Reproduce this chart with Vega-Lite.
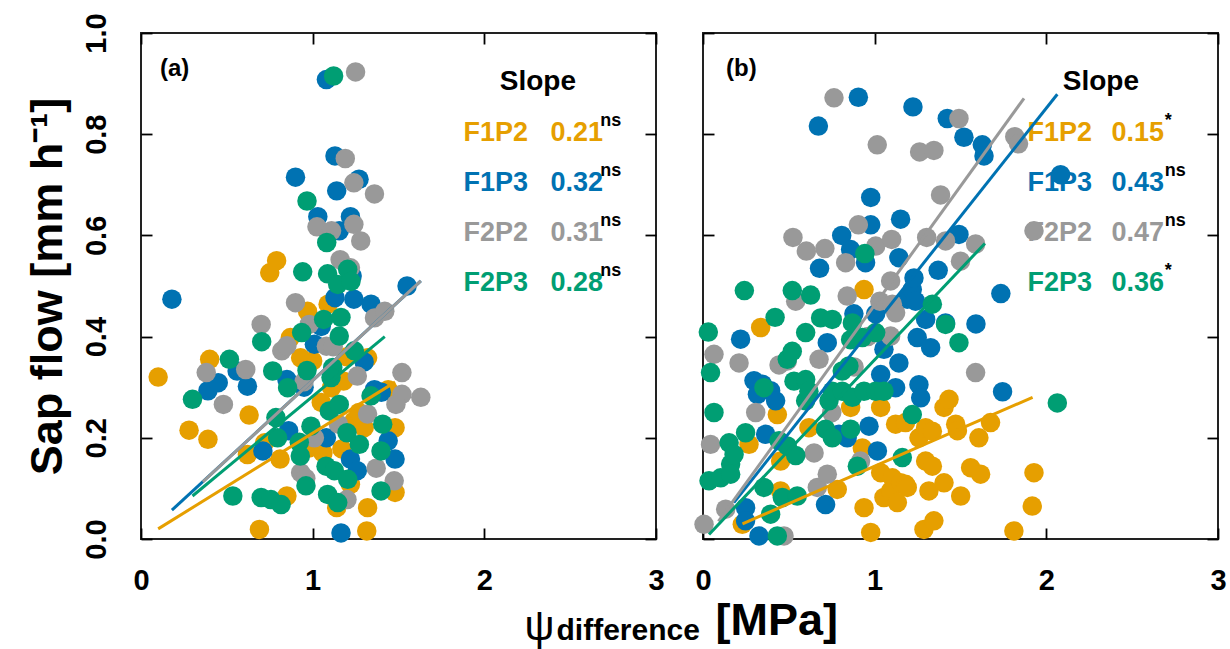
{
  "$schema": "https://vega.github.io/schema/vega-lite/v6.json",
  "padding": {"left": 23, "top": 11, "right": 5, "bottom": 5},
  "background": "white",
  "config": {
    "font": "Liberation Sans",
    "view": {"stroke": "#222222", "strokeWidth": 2},
    "axis": {"grid": false, "domain": false, "tickColor": "black", "tickWidth": 1.8, "labelColor": "black", "titleColor": "black", "labelFlush": false, "labelOverlap": false}
  },
  "datasets": {
    "tags": [
      {"panel": "a", "tag": "(a)", "head": "Slope"},
      {"panel": "b", "tag": "(b)", "head": "Slope"}
    ],
    "labels": [
      {"panel": "a", "group": "F1P2", "slope": "0.21", "sig": "ns", "ly": 0.787},
      {"panel": "a", "group": "F1P3", "slope": "0.32", "sig": "ns", "ly": 0.688},
      {"panel": "a", "group": "F2P2", "slope": "0.31", "sig": "ns", "ly": 0.589},
      {"panel": "a", "group": "F2P3", "slope": "0.28", "sig": "ns", "ly": 0.490},
      {"panel": "b", "group": "F1P2", "slope": "0.15", "sig": "*", "ly": 0.787},
      {"panel": "b", "group": "F1P3", "slope": "0.43", "sig": "ns", "ly": 0.688},
      {"panel": "b", "group": "F2P2", "slope": "0.47", "sig": "ns", "ly": 0.589},
      {"panel": "b", "group": "F2P3", "slope": "0.36", "sig": "*", "ly": 0.490}
    ],
    "fits": [
      {"panel": "a", "group": "F1P2", "x": 0.10, "y": 0.02},
      {"panel": "a", "group": "F1P2", "x": 1.48, "y": 0.31},
      {"panel": "a", "group": "F1P3", "x": 0.18, "y": 0.057},
      {"panel": "a", "group": "F1P3", "x": 1.63, "y": 0.51},
      {"panel": "a", "group": "F2P2", "x": 0.36, "y": 0.113},
      {"panel": "a", "group": "F2P2", "x": 1.63, "y": 0.51},
      {"panel": "a", "group": "F2P3", "x": 0.30, "y": 0.085},
      {"panel": "a", "group": "F2P3", "x": 1.42, "y": 0.40},
      {"panel": "b", "group": "F1P2", "x": 0.23, "y": 0.03},
      {"panel": "b", "group": "F1P2", "x": 1.92, "y": 0.28},
      {"panel": "b", "group": "F1P3", "x": 0.18, "y": 0.072},
      {"panel": "b", "group": "F1P3", "x": 2.064, "y": 0.879},
      {"panel": "b", "group": "F2P2", "x": 0.09, "y": 0.035},
      {"panel": "b", "group": "F2P2", "x": 1.87, "y": 0.871},
      {"panel": "b", "group": "F2P3", "x": 0.035, "y": 0.009},
      {"panel": "b", "group": "F2P3", "x": 1.642, "y": 0.584}
    ],
    "pts": [
      {"panel": "a", "group": "F1P2", "x": 0.10, "y": 0.32},
      {"panel": "a", "group": "F1P2", "x": 0.28, "y": 0.215},
      {"panel": "a", "group": "F1P2", "x": 0.39, "y": 0.197},
      {"panel": "a", "group": "F1P2", "x": 0.40, "y": 0.355},
      {"panel": "a", "group": "F1P2", "x": 0.62, "y": 0.167},
      {"panel": "a", "group": "F1P2", "x": 0.63, "y": 0.245},
      {"panel": "a", "group": "F1P2", "x": 0.69, "y": 0.019},
      {"panel": "a", "group": "F1P2", "x": 0.75, "y": 0.526},
      {"panel": "a", "group": "F1P2", "x": 0.79, "y": 0.55},
      {"panel": "a", "group": "F1P2", "x": 0.81, "y": 0.158},
      {"panel": "a", "group": "F1P2", "x": 0.85, "y": 0.085},
      {"panel": "a", "group": "F1P2", "x": 0.87, "y": 0.398},
      {"panel": "a", "group": "F1P2", "x": 0.93, "y": 0.358},
      {"panel": "a", "group": "F1P2", "x": 0.97, "y": 0.45},
      {"panel": "a", "group": "F1P2", "x": 0.98, "y": 0.18},
      {"panel": "a", "group": "F1P2", "x": 1.0, "y": 0.352},
      {"panel": "a", "group": "F1P2", "x": 1.09, "y": 0.464},
      {"panel": "a", "group": "F1P2", "x": 1.11, "y": 0.299},
      {"panel": "a", "group": "F1P2", "x": 1.17, "y": 0.178},
      {"panel": "a", "group": "F1P2", "x": 1.18, "y": 0.312},
      {"panel": "a", "group": "F1P2", "x": 1.14, "y": 0.062},
      {"panel": "a", "group": "F1P2", "x": 1.24, "y": 0.233},
      {"panel": "a", "group": "F1P2", "x": 1.22, "y": 0.108},
      {"panel": "a", "group": "F1P2", "x": 1.32, "y": 0.358},
      {"panel": "a", "group": "F1P2", "x": 1.30, "y": 0.22},
      {"panel": "a", "group": "F1P2", "x": 1.32, "y": 0.062},
      {"panel": "a", "group": "F1P2", "x": 1.315, "y": 0.016},
      {"panel": "a", "group": "F1P2", "x": 1.44, "y": 0.295},
      {"panel": "a", "group": "F1P2", "x": 1.48, "y": 0.22},
      {"panel": "a", "group": "F1P2", "x": 1.48, "y": 0.092},
      {"panel": "a", "group": "F1P2", "x": 1.27, "y": 0.25},
      {"panel": "a", "group": "F1P2", "x": 1.05, "y": 0.27},
      {"panel": "a", "group": "F1P2", "x": 0.72, "y": 0.19},
      {"panel": "a", "group": "F1P2", "x": 1.2, "y": 0.36},
      {"panel": "a", "group": "F1P2", "x": 1.06, "y": 0.17},
      {"panel": "a", "group": "F1P3", "x": 0.18, "y": 0.474},
      {"panel": "a", "group": "F1P3", "x": 0.39, "y": 0.293},
      {"panel": "a", "group": "F1P3", "x": 0.45, "y": 0.309},
      {"panel": "a", "group": "F1P3", "x": 0.56, "y": 0.332},
      {"panel": "a", "group": "F1P3", "x": 0.62, "y": 0.302},
      {"panel": "a", "group": "F1P3", "x": 0.71, "y": 0.174},
      {"panel": "a", "group": "F1P3", "x": 0.85, "y": 0.315},
      {"panel": "a", "group": "F1P3", "x": 0.86, "y": 0.214},
      {"panel": "a", "group": "F1P3", "x": 0.90, "y": 0.715},
      {"panel": "a", "group": "F1P3", "x": 1.01, "y": 0.385},
      {"panel": "a", "group": "F1P3", "x": 1.03, "y": 0.637},
      {"panel": "a", "group": "F1P3", "x": 1.08, "y": 0.908},
      {"panel": "a", "group": "F1P3", "x": 1.08, "y": 0.2},
      {"panel": "a", "group": "F1P3", "x": 1.13, "y": 0.757},
      {"panel": "a", "group": "F1P3", "x": 1.14, "y": 0.688},
      {"panel": "a", "group": "F1P3", "x": 1.155, "y": 0.609},
      {"panel": "a", "group": "F1P3", "x": 1.13, "y": 0.477},
      {"panel": "a", "group": "F1P3", "x": 1.22, "y": 0.637},
      {"panel": "a", "group": "F1P3", "x": 1.27, "y": 0.711},
      {"panel": "a", "group": "F1P3", "x": 1.23, "y": 0.52},
      {"panel": "a", "group": "F1P3", "x": 1.24, "y": 0.474},
      {"panel": "a", "group": "F1P3", "x": 1.34, "y": 0.464},
      {"panel": "a", "group": "F1P3", "x": 1.55, "y": 0.5},
      {"panel": "a", "group": "F1P3", "x": 1.36, "y": 0.295},
      {"panel": "a", "group": "F1P3", "x": 1.40, "y": 0.29},
      {"panel": "a", "group": "F1P3", "x": 1.22, "y": 0.158},
      {"panel": "a", "group": "F1P3", "x": 1.26, "y": 0.135},
      {"panel": "a", "group": "F1P3", "x": 1.48, "y": 0.158},
      {"panel": "a", "group": "F1P3", "x": 1.44, "y": 0.194},
      {"panel": "a", "group": "F1P3", "x": 1.165, "y": 0.012},
      {"panel": "a", "group": "F1P3", "x": 1.3, "y": 0.35},
      {"panel": "a", "group": "F1P3", "x": 0.95, "y": 0.30},
      {"panel": "a", "group": "F1P3", "x": 1.05, "y": 0.42},
      {"panel": "a", "group": "F2P2", "x": 0.38, "y": 0.329},
      {"panel": "a", "group": "F2P2", "x": 0.48, "y": 0.266},
      {"panel": "a", "group": "F2P2", "x": 0.61, "y": 0.335},
      {"panel": "a", "group": "F2P2", "x": 0.70, "y": 0.424},
      {"panel": "a", "group": "F2P2", "x": 0.82, "y": 0.372},
      {"panel": "a", "group": "F2P2", "x": 0.85, "y": 0.382},
      {"panel": "a", "group": "F2P2", "x": 0.90, "y": 0.467},
      {"panel": "a", "group": "F2P2", "x": 0.95, "y": 0.311},
      {"panel": "a", "group": "F2P2", "x": 0.98, "y": 0.424},
      {"panel": "a", "group": "F2P2", "x": 0.93, "y": 0.131},
      {"panel": "a", "group": "F2P2", "x": 0.96, "y": 0.12},
      {"panel": "a", "group": "F2P2", "x": 1.01, "y": 0.2},
      {"panel": "a", "group": "F2P2", "x": 1.025, "y": 0.617},
      {"panel": "a", "group": "F2P2", "x": 1.08, "y": 0.381},
      {"panel": "a", "group": "F2P2", "x": 1.11, "y": 0.609},
      {"panel": "a", "group": "F2P2", "x": 1.15, "y": 0.227},
      {"panel": "a", "group": "F2P2", "x": 1.16, "y": 0.552},
      {"panel": "a", "group": "F2P2", "x": 1.19, "y": 0.752},
      {"panel": "a", "group": "F2P2", "x": 1.22, "y": 0.536},
      {"panel": "a", "group": "F2P2", "x": 1.24, "y": 0.704},
      {"panel": "a", "group": "F2P2", "x": 1.24, "y": 0.622},
      {"panel": "a", "group": "F2P2", "x": 1.25, "y": 0.923},
      {"panel": "a", "group": "F2P2", "x": 1.28, "y": 0.589},
      {"panel": "a", "group": "F2P2", "x": 1.36, "y": 0.682},
      {"panel": "a", "group": "F2P2", "x": 1.26, "y": 0.322},
      {"panel": "a", "group": "F2P2", "x": 1.32, "y": 0.247},
      {"panel": "a", "group": "F2P2", "x": 1.36, "y": 0.437},
      {"panel": "a", "group": "F2P2", "x": 1.42, "y": 0.45},
      {"panel": "a", "group": "F2P2", "x": 1.52, "y": 0.329},
      {"panel": "a", "group": "F2P2", "x": 1.52, "y": 0.286},
      {"panel": "a", "group": "F2P2", "x": 1.63, "y": 0.28},
      {"panel": "a", "group": "F2P2", "x": 1.485, "y": 0.266},
      {"panel": "a", "group": "F2P2", "x": 1.37, "y": 0.14},
      {"panel": "a", "group": "F2P2", "x": 1.475, "y": 0.115},
      {"panel": "a", "group": "F2P2", "x": 1.2, "y": 0.078},
      {"panel": "a", "group": "F2P2", "x": 1.12, "y": 0.38},
      {"panel": "a", "group": "F2P3", "x": 0.30, "y": 0.276},
      {"panel": "a", "group": "F2P3", "x": 0.515, "y": 0.355},
      {"panel": "a", "group": "F2P3", "x": 0.535, "y": 0.085},
      {"panel": "a", "group": "F2P3", "x": 0.70, "y": 0.082},
      {"panel": "a", "group": "F2P3", "x": 0.757, "y": 0.078},
      {"panel": "a", "group": "F2P3", "x": 0.816, "y": 0.068},
      {"panel": "a", "group": "F2P3", "x": 0.703, "y": 0.39},
      {"panel": "a", "group": "F2P3", "x": 0.767, "y": 0.332},
      {"panel": "a", "group": "F2P3", "x": 0.786, "y": 0.24},
      {"panel": "a", "group": "F2P3", "x": 0.796, "y": 0.2},
      {"panel": "a", "group": "F2P3", "x": 0.854, "y": 0.299},
      {"panel": "a", "group": "F2P3", "x": 0.936, "y": 0.408},
      {"panel": "a", "group": "F2P3", "x": 0.942, "y": 0.528},
      {"panel": "a", "group": "F2P3", "x": 0.967, "y": 0.668},
      {"panel": "a", "group": "F2P3", "x": 0.967, "y": 0.333},
      {"panel": "a", "group": "F2P3", "x": 0.99, "y": 0.223},
      {"panel": "a", "group": "F2P3", "x": 0.922, "y": 0.191},
      {"panel": "a", "group": "F2P3", "x": 0.928, "y": 0.164},
      {"panel": "a", "group": "F2P3", "x": 0.961, "y": 0.105},
      {"panel": "a", "group": "F2P3", "x": 1.064, "y": 0.434},
      {"panel": "a", "group": "F2P3", "x": 1.082, "y": 0.586},
      {"panel": "a", "group": "F2P3", "x": 1.087, "y": 0.524},
      {"panel": "a", "group": "F2P3", "x": 1.122, "y": 0.915},
      {"panel": "a", "group": "F2P3", "x": 1.165, "y": 0.438},
      {"panel": "a", "group": "F2P3", "x": 1.155, "y": 0.401},
      {"panel": "a", "group": "F2P3", "x": 1.146, "y": 0.503},
      {"panel": "a", "group": "F2P3", "x": 1.204, "y": 0.533},
      {"panel": "a", "group": "F2P3", "x": 1.223, "y": 0.509},
      {"panel": "a", "group": "F2P3", "x": 1.243, "y": 0.372},
      {"panel": "a", "group": "F2P3", "x": 1.117, "y": 0.339},
      {"panel": "a", "group": "F2P3", "x": 1.107, "y": 0.319},
      {"panel": "a", "group": "F2P3", "x": 1.097, "y": 0.253},
      {"panel": "a", "group": "F2P3", "x": 1.155, "y": 0.266},
      {"panel": "a", "group": "F2P3", "x": 1.34, "y": 0.283},
      {"panel": "a", "group": "F2P3", "x": 1.2, "y": 0.21},
      {"panel": "a", "group": "F2P3", "x": 1.272, "y": 0.187},
      {"panel": "a", "group": "F2P3", "x": 1.408, "y": 0.227},
      {"panel": "a", "group": "F2P3", "x": 1.398, "y": 0.174},
      {"panel": "a", "group": "F2P3", "x": 1.398, "y": 0.095},
      {"panel": "a", "group": "F2P3", "x": 1.078, "y": 0.144},
      {"panel": "a", "group": "F2P3", "x": 1.126, "y": 0.135},
      {"panel": "a", "group": "F2P3", "x": 1.204, "y": 0.118},
      {"panel": "a", "group": "F2P3", "x": 1.087, "y": 0.088},
      {"panel": "a", "group": "F2P3", "x": 1.146, "y": 0.072},
      {"panel": "b", "group": "F1P2", "x": 0.229, "y": 0.029},
      {"panel": "b", "group": "F1P2", "x": 0.268, "y": 0.187},
      {"panel": "b", "group": "F1P2", "x": 0.336, "y": 0.418},
      {"panel": "b", "group": "F1P2", "x": 0.433, "y": 0.246},
      {"panel": "b", "group": "F1P2", "x": 0.452, "y": 0.154},
      {"panel": "b", "group": "F1P2", "x": 0.452, "y": 0.095},
      {"panel": "b", "group": "F1P2", "x": 0.617, "y": 0.22},
      {"panel": "b", "group": "F1P2", "x": 0.782, "y": 0.098},
      {"panel": "b", "group": "F1P2", "x": 0.86, "y": 0.26},
      {"panel": "b", "group": "F1P2", "x": 0.928, "y": 0.18},
      {"panel": "b", "group": "F1P2", "x": 0.938, "y": 0.062},
      {"panel": "b", "group": "F1P2", "x": 0.938, "y": 0.493},
      {"panel": "b", "group": "F1P2", "x": 0.977, "y": 0.013},
      {"panel": "b", "group": "F1P2", "x": 1.035, "y": 0.26},
      {"panel": "b", "group": "F1P2", "x": 1.035, "y": 0.131},
      {"panel": "b", "group": "F1P2", "x": 1.054, "y": 0.082},
      {"panel": "b", "group": "F1P2", "x": 1.093, "y": 0.095},
      {"panel": "b", "group": "F1P2", "x": 1.103, "y": 0.121},
      {"panel": "b", "group": "F1P2", "x": 1.122, "y": 0.227},
      {"panel": "b", "group": "F1P2", "x": 1.132, "y": 0.072},
      {"panel": "b", "group": "F1P2", "x": 1.151, "y": 0.111},
      {"panel": "b", "group": "F1P2", "x": 1.18, "y": 0.23},
      {"panel": "b", "group": "F1P2", "x": 1.18, "y": 0.108},
      {"panel": "b", "group": "F1P2", "x": 1.19, "y": 0.102},
      {"panel": "b", "group": "F1P2", "x": 1.258, "y": 0.2},
      {"panel": "b", "group": "F1P2", "x": 1.287, "y": 0.019},
      {"panel": "b", "group": "F1P2", "x": 1.297, "y": 0.22},
      {"panel": "b", "group": "F1P2", "x": 1.297, "y": 0.154},
      {"panel": "b", "group": "F1P2", "x": 1.316, "y": 0.095},
      {"panel": "b", "group": "F1P2", "x": 1.336, "y": 0.213},
      {"panel": "b", "group": "F1P2", "x": 1.336, "y": 0.144},
      {"panel": "b", "group": "F1P2", "x": 1.345, "y": 0.036},
      {"panel": "b", "group": "F1P2", "x": 1.404, "y": 0.26},
      {"panel": "b", "group": "F1P2", "x": 1.404, "y": 0.111},
      {"panel": "b", "group": "F1P2", "x": 1.433, "y": 0.276},
      {"panel": "b", "group": "F1P2", "x": 1.472, "y": 0.227},
      {"panel": "b", "group": "F1P2", "x": 1.482, "y": 0.214},
      {"panel": "b", "group": "F1P2", "x": 1.501, "y": 0.085},
      {"panel": "b", "group": "F1P2", "x": 1.559, "y": 0.141},
      {"panel": "b", "group": "F1P2", "x": 1.607, "y": 0.2},
      {"panel": "b", "group": "F1P2", "x": 1.617, "y": 0.128},
      {"panel": "b", "group": "F1P2", "x": 1.675, "y": 0.23},
      {"panel": "b", "group": "F1P2", "x": 1.811, "y": 0.016},
      {"panel": "b", "group": "F1P2", "x": 1.918, "y": 0.065},
      {"panel": "b", "group": "F1P2", "x": 1.928, "y": 0.131},
      {"panel": "b", "group": "F1P3", "x": 0.219, "y": 0.395},
      {"panel": "b", "group": "F1P3", "x": 0.248, "y": 0.062},
      {"panel": "b", "group": "F1P3", "x": 0.248, "y": 0.036},
      {"panel": "b", "group": "F1P3", "x": 0.297, "y": 0.313},
      {"panel": "b", "group": "F1P3", "x": 0.317, "y": 0.286},
      {"panel": "b", "group": "F1P3", "x": 0.326, "y": 0.006},
      {"panel": "b", "group": "F1P3", "x": 0.346, "y": 0.306},
      {"panel": "b", "group": "F1P3", "x": 0.365, "y": 0.207},
      {"panel": "b", "group": "F1P3", "x": 0.394, "y": 0.293},
      {"panel": "b", "group": "F1P3", "x": 0.423, "y": 0.273},
      {"panel": "b", "group": "F1P3", "x": 0.672, "y": 0.816},
      {"panel": "b", "group": "F1P3", "x": 0.679, "y": 0.535},
      {"panel": "b", "group": "F1P3", "x": 0.714, "y": 0.068},
      {"panel": "b", "group": "F1P3", "x": 0.724, "y": 0.388},
      {"panel": "b", "group": "F1P3", "x": 0.792, "y": 0.207},
      {"panel": "b", "group": "F1P3", "x": 0.808, "y": 0.6},
      {"panel": "b", "group": "F1P3", "x": 0.84, "y": 0.2},
      {"panel": "b", "group": "F1P3", "x": 0.86, "y": 0.572},
      {"panel": "b", "group": "F1P3", "x": 0.879, "y": 0.445},
      {"panel": "b", "group": "F1P3", "x": 0.905, "y": 0.873},
      {"panel": "b", "group": "F1P3", "x": 0.947, "y": 0.546},
      {"panel": "b", "group": "F1P3", "x": 0.967, "y": 0.223},
      {"panel": "b", "group": "F1P3", "x": 0.977, "y": 0.675},
      {"panel": "b", "group": "F1P3", "x": 0.977, "y": 0.621},
      {"panel": "b", "group": "F1P3", "x": 1.006, "y": 0.445},
      {"panel": "b", "group": "F1P3", "x": 1.016, "y": 0.174},
      {"panel": "b", "group": "F1P3", "x": 1.035, "y": 0.325},
      {"panel": "b", "group": "F1P3", "x": 1.054, "y": 0.375},
      {"panel": "b", "group": "F1P3", "x": 1.122, "y": 0.299},
      {"panel": "b", "group": "F1P3", "x": 1.141, "y": 0.556},
      {"panel": "b", "group": "F1P3", "x": 1.141, "y": 0.348},
      {"panel": "b", "group": "F1P3", "x": 1.151, "y": 0.632},
      {"panel": "b", "group": "F1P3", "x": 1.19, "y": 0.474},
      {"panel": "b", "group": "F1P3", "x": 1.219, "y": 0.493},
      {"panel": "b", "group": "F1P3", "x": 1.223, "y": 0.854},
      {"panel": "b", "group": "F1P3", "x": 1.229, "y": 0.516},
      {"panel": "b", "group": "F1P3", "x": 1.238, "y": 0.47},
      {"panel": "b", "group": "F1P3", "x": 1.248, "y": 0.398},
      {"panel": "b", "group": "F1P3", "x": 1.258, "y": 0.305},
      {"panel": "b", "group": "F1P3", "x": 1.268, "y": 0.279},
      {"panel": "b", "group": "F1P3", "x": 1.297, "y": 0.434},
      {"panel": "b", "group": "F1P3", "x": 1.326, "y": 0.378},
      {"panel": "b", "group": "F1P3", "x": 1.37, "y": 0.531},
      {"panel": "b", "group": "F1P3", "x": 1.413, "y": 0.427},
      {"panel": "b", "group": "F1P3", "x": 1.423, "y": 0.831},
      {"panel": "b", "group": "F1P3", "x": 1.491, "y": 0.602},
      {"panel": "b", "group": "F1P3", "x": 1.52, "y": 0.794},
      {"panel": "b", "group": "F1P3", "x": 1.59, "y": 0.425},
      {"panel": "b", "group": "F1P3", "x": 1.627, "y": 0.779},
      {"panel": "b", "group": "F1P3", "x": 1.637, "y": 0.757},
      {"panel": "b", "group": "F1P3", "x": 1.735, "y": 0.485},
      {"panel": "b", "group": "F1P3", "x": 1.745, "y": 0.291},
      {"panel": "b", "group": "F1P3", "x": 2.083, "y": 0.72},
      {"panel": "b", "group": "F2P2", "x": 0.006, "y": 0.029},
      {"panel": "b", "group": "F2P2", "x": 0.044, "y": 0.187},
      {"panel": "b", "group": "F2P2", "x": 0.064, "y": 0.365},
      {"panel": "b", "group": "F2P2", "x": 0.132, "y": 0.059},
      {"panel": "b", "group": "F2P2", "x": 0.21, "y": 0.348},
      {"panel": "b", "group": "F2P2", "x": 0.307, "y": 0.25},
      {"panel": "b", "group": "F2P2", "x": 0.443, "y": 0.344},
      {"panel": "b", "group": "F2P2", "x": 0.472, "y": 0.006},
      {"panel": "b", "group": "F2P2", "x": 0.491, "y": 0.352},
      {"panel": "b", "group": "F2P2", "x": 0.524, "y": 0.596},
      {"panel": "b", "group": "F2P2", "x": 0.54, "y": 0.47},
      {"panel": "b", "group": "F2P2", "x": 0.602, "y": 0.569},
      {"panel": "b", "group": "F2P2", "x": 0.647, "y": 0.17},
      {"panel": "b", "group": "F2P2", "x": 0.666, "y": 0.102},
      {"panel": "b", "group": "F2P2", "x": 0.676, "y": 0.355},
      {"panel": "b", "group": "F2P2", "x": 0.71, "y": 0.574},
      {"panel": "b", "group": "F2P2", "x": 0.724, "y": 0.128},
      {"panel": "b", "group": "F2P2", "x": 0.75, "y": 0.25},
      {"panel": "b", "group": "F2P2", "x": 0.763, "y": 0.872},
      {"panel": "b", "group": "F2P2", "x": 0.831, "y": 0.546},
      {"panel": "b", "group": "F2P2", "x": 0.84, "y": 0.48},
      {"panel": "b", "group": "F2P2", "x": 0.88, "y": 0.34},
      {"panel": "b", "group": "F2P2", "x": 0.905, "y": 0.621},
      {"panel": "b", "group": "F2P2", "x": 0.918, "y": 0.154},
      {"panel": "b", "group": "F2P2", "x": 0.96, "y": 0.4},
      {"panel": "b", "group": "F2P2", "x": 1.006, "y": 0.579},
      {"panel": "b", "group": "F2P2", "x": 1.015, "y": 0.779},
      {"panel": "b", "group": "F2P2", "x": 1.03, "y": 0.47},
      {"panel": "b", "group": "F2P2", "x": 1.093, "y": 0.51},
      {"panel": "b", "group": "F2P2", "x": 1.093, "y": 0.401},
      {"panel": "b", "group": "F2P2", "x": 1.099, "y": 0.592},
      {"panel": "b", "group": "F2P2", "x": 1.103, "y": 0.464},
      {"panel": "b", "group": "F2P2", "x": 1.122, "y": 0.447},
      {"panel": "b", "group": "F2P2", "x": 1.262, "y": 0.765},
      {"panel": "b", "group": "F2P2", "x": 1.303, "y": 0.596},
      {"panel": "b", "group": "F2P2", "x": 1.345, "y": 0.768},
      {"panel": "b", "group": "F2P2", "x": 1.384, "y": 0.68},
      {"panel": "b", "group": "F2P2", "x": 1.413, "y": 0.589},
      {"panel": "b", "group": "F2P2", "x": 1.491, "y": 0.831},
      {"panel": "b", "group": "F2P2", "x": 1.5, "y": 0.549},
      {"panel": "b", "group": "F2P2", "x": 1.588, "y": 0.583},
      {"panel": "b", "group": "F2P2", "x": 1.588, "y": 0.329},
      {"panel": "b", "group": "F2P2", "x": 1.816, "y": 0.795},
      {"panel": "b", "group": "F2P2", "x": 1.838, "y": 0.781},
      {"panel": "b", "group": "F2P2", "x": 1.928, "y": 0.609},
      {"panel": "b", "group": "F2P3", "x": 0.031, "y": 0.409},
      {"panel": "b", "group": "F2P3", "x": 0.035, "y": 0.115},
      {"panel": "b", "group": "F2P3", "x": 0.044, "y": 0.329},
      {"panel": "b", "group": "F2P3", "x": 0.064, "y": 0.25},
      {"panel": "b", "group": "F2P3", "x": 0.103, "y": 0.121},
      {"panel": "b", "group": "F2P3", "x": 0.152, "y": 0.19},
      {"panel": "b", "group": "F2P3", "x": 0.161, "y": 0.148},
      {"panel": "b", "group": "F2P3", "x": 0.161, "y": 0.128},
      {"panel": "b", "group": "F2P3", "x": 0.181, "y": 0.167},
      {"panel": "b", "group": "F2P3", "x": 0.241, "y": 0.491},
      {"panel": "b", "group": "F2P3", "x": 0.248, "y": 0.21},
      {"panel": "b", "group": "F2P3", "x": 0.355, "y": 0.299},
      {"panel": "b", "group": "F2P3", "x": 0.355, "y": 0.102},
      {"panel": "b", "group": "F2P3", "x": 0.394, "y": 0.049},
      {"panel": "b", "group": "F2P3", "x": 0.42, "y": 0.438},
      {"panel": "b", "group": "F2P3", "x": 0.433, "y": 0.006},
      {"panel": "b", "group": "F2P3", "x": 0.443, "y": 0.194},
      {"panel": "b", "group": "F2P3", "x": 0.462, "y": 0.082},
      {"panel": "b", "group": "F2P3", "x": 0.491, "y": 0.355},
      {"panel": "b", "group": "F2P3", "x": 0.491, "y": 0.184},
      {"panel": "b", "group": "F2P3", "x": 0.52, "y": 0.371},
      {"panel": "b", "group": "F2P3", "x": 0.52, "y": 0.491},
      {"panel": "b", "group": "F2P3", "x": 0.53, "y": 0.312},
      {"panel": "b", "group": "F2P3", "x": 0.54, "y": 0.165},
      {"panel": "b", "group": "F2P3", "x": 0.549, "y": 0.085},
      {"panel": "b", "group": "F2P3", "x": 0.598, "y": 0.408},
      {"panel": "b", "group": "F2P3", "x": 0.598, "y": 0.315},
      {"panel": "b", "group": "F2P3", "x": 0.598, "y": 0.273},
      {"panel": "b", "group": "F2P3", "x": 0.617, "y": 0.292},
      {"panel": "b", "group": "F2P3", "x": 0.627, "y": 0.482},
      {"panel": "b", "group": "F2P3", "x": 0.685, "y": 0.437},
      {"panel": "b", "group": "F2P3", "x": 0.714, "y": 0.217},
      {"panel": "b", "group": "F2P3", "x": 0.734, "y": 0.273},
      {"panel": "b", "group": "F2P3", "x": 0.753, "y": 0.434},
      {"panel": "b", "group": "F2P3", "x": 0.753, "y": 0.292},
      {"panel": "b", "group": "F2P3", "x": 0.753, "y": 0.2},
      {"panel": "b", "group": "F2P3", "x": 0.811, "y": 0.332},
      {"panel": "b", "group": "F2P3", "x": 0.811, "y": 0.292},
      {"panel": "b", "group": "F2P3", "x": 0.85, "y": 0.342},
      {"panel": "b", "group": "F2P3", "x": 0.86, "y": 0.394},
      {"panel": "b", "group": "F2P3", "x": 0.86, "y": 0.217},
      {"panel": "b", "group": "F2P3", "x": 0.87, "y": 0.427},
      {"panel": "b", "group": "F2P3", "x": 0.87, "y": 0.28},
      {"panel": "b", "group": "F2P3", "x": 0.899, "y": 0.144},
      {"panel": "b", "group": "F2P3", "x": 0.928, "y": 0.398},
      {"panel": "b", "group": "F2P3", "x": 0.938, "y": 0.292},
      {"panel": "b", "group": "F2P3", "x": 0.943, "y": 0.564},
      {"panel": "b", "group": "F2P3", "x": 1.006, "y": 0.408},
      {"panel": "b", "group": "F2P3", "x": 1.006, "y": 0.292},
      {"panel": "b", "group": "F2P3", "x": 1.054, "y": 0.292},
      {"panel": "b", "group": "F2P3", "x": 1.161, "y": 0.161},
      {"panel": "b", "group": "F2P3", "x": 1.219, "y": 0.246},
      {"panel": "b", "group": "F2P3", "x": 1.336, "y": 0.464},
      {"panel": "b", "group": "F2P3", "x": 1.413, "y": 0.424},
      {"panel": "b", "group": "F2P3", "x": 1.491, "y": 0.388},
      {"panel": "b", "group": "F2P3", "x": 2.064, "y": 0.269}
    ]
  },
  "spacing": 47,
  "bounds": "flush",
  "hconcat": [
    {
      "width": 515,
      "height": 506,
      "resolve": {"axis": {"x": "independent", "y": "independent"}},
      "layer": [
        {
          "data": {"name": "tags"},
          "transform": [{"filter": "datum.panel === 'a'"}],
          "mark": {"type": "text", "align": "left", "baseline": "alphabetic", "fontSize": 24, "fontWeight": "bold", "color": "black"},
          "encoding": {
            "x": {"datum": 0.11, "type": "quantitative", "scale": {"domain": [0, 3], "nice": false, "zero": false},
              "axis": {"orient": "bottom", "labels": false, "ticks": false, "domain": false, "grid": false, "title": "ψ", "titleFontSize": 42, "titleFontWeight": "normal", "titleX": 398, "titleY": 100, "titleAlign": "center", "titleBaseline": "alphabetic"}},
            "y": {"datum": 0.915, "type": "quantitative", "scale": {"domain": [0, 1], "nice": false, "zero": false}, "axis": null},
            "text": {"field": "tag"}
          }
        },
        {
          "data": {"name": "tags"},
          "transform": [{"filter": "datum.panel === 'a'"}],
          "mark": {"type": "text", "align": "center", "baseline": "alphabetic", "fontSize": 28, "fontWeight": "bold", "color": "black"},
          "encoding": {
            "x": {"datum": 2.312, "type": "quantitative", "scale": {"domain": [0, 3], "nice": false, "zero": false}, "axis": null},
            "y": {"datum": 0.887, "type": "quantitative", "scale": {"domain": [0, 1], "nice": false, "zero": false}, "axis": null},
            "text": {"field": "head"}
          }
        },
        {
          "data": {"name": "labels"},
          "transform": [{"filter": "datum.panel === 'a'"}],
          "mark": {"type": "text", "align": "left", "baseline": "alphabetic", "fontSize": 27, "fontWeight": "bold"},
          "encoding": {
            "x": {"datum": 1.878, "type": "quantitative", "scale": {"domain": [0, 3], "nice": false, "zero": false}, "axis": null},
            "y": {"field": "ly", "type": "quantitative", "scale": {"domain": [0, 1], "nice": false, "zero": false}, "axis": null},
            "color": {"field": "group", "type": "nominal", "scale": {"domain": ["F1P2", "F1P3", "F2P2", "F2P3"], "range": ["#E69F00", "#0072B2", "#999999", "#009E73"]}, "legend": null},
            "text": {"field": "group"}
          }
        },
        {
          "data": {"name": "labels"},
          "transform": [{"filter": "datum.panel === 'a'"}],
          "mark": {"type": "text", "align": "left", "baseline": "alphabetic", "fontSize": 27, "fontWeight": "bold"},
          "encoding": {
            "x": {"datum": 2.385, "type": "quantitative", "scale": {"domain": [0, 3], "nice": false, "zero": false}, "axis": null},
            "y": {"field": "ly", "type": "quantitative", "scale": {"domain": [0, 1], "nice": false, "zero": false}, "axis": null},
            "color": {"field": "group", "type": "nominal", "scale": {"domain": ["F1P2", "F1P3", "F2P2", "F2P3"], "range": ["#E69F00", "#0072B2", "#999999", "#009E73"]}, "legend": null},
            "text": {"field": "slope"}
          }
        },
        {
          "data": {"name": "labels"},
          "transform": [{"filter": "datum.panel === 'a'"}],
          "mark": {"type": "text", "align": "left", "baseline": "alphabetic", "fontSize": 18, "fontWeight": "bold", "color": "black", "dy": -15},
          "encoding": {
            "x": {"datum": 2.675, "type": "quantitative", "scale": {"domain": [0, 3], "nice": false, "zero": false}, "axis": null},
            "y": {"field": "ly", "type": "quantitative", "scale": {"domain": [0, 1], "nice": false, "zero": false}, "axis": null},
            "text": {"field": "sig"}
          }
        },
        {
          "data": {"name": "pts"},
          "transform": [{"filter": "datum.panel === 'a'"}],
          "mark": {"type": "circle", "size": 380, "opacity": 1},
          "encoding": {
            "x": {"field": "x", "type": "quantitative", "scale": {"domain": [0, 3], "nice": false, "zero": false},
              "axis": {"orient": "bottom", "values": [0, 1, 2, 3], "format": "d", "labelFontSize": 29, "labelFontWeight": "bold", "labelBaseline": "alphabetic", "labelPadding": 61, "tickSize": -11, "domain": false, "grid": false, "title": null}},
            "y": {"field": "y", "type": "quantitative", "scale": {"domain": [0, 1], "nice": false, "zero": false},
              "axis": {"orient": "left", "values": [0, 0.2, 0.4, 0.6, 0.8, 1.0], "format": ".1f", "labelAngle": -90, "labelAlign": "center", "labelBaseline": "alphabetic", "labelFontSize": 29, "labelFontWeight": "bold", "labelPadding": 47, "tickSize": -11, "domain": false, "grid": false,
                "title": "Sap flow [mm h⁻¹]", "titleFontSize": 45, "titleFontWeight": "bold", "titleAngle": -90, "titleX": -80, "titleY": 253, "titleAlign": "center", "titleBaseline": "alphabetic"}},
            "color": {"field": "group", "type": "nominal", "scale": {"domain": ["F1P2", "F1P3", "F2P2", "F2P3"], "range": ["#E69F00", "#0072B2", "#999999", "#009E73"]}, "legend": null}
          }
        },
        {
          "data": {"name": "fits"},
          "transform": [{"filter": "datum.panel === 'a'"}],
          "mark": {"type": "line", "strokeWidth": 3},
          "encoding": {
            "x": {"field": "x", "type": "quantitative", "scale": {"domain": [0, 3], "nice": false, "zero": false},
              "axis": {"orient": "top", "values": [0, 1, 2, 3], "labels": false, "tickSize": -11, "domain": false, "grid": false, "title": null}},
            "y": {"field": "y", "type": "quantitative", "scale": {"domain": [0, 1], "nice": false, "zero": false},
              "axis": {"orient": "right", "values": [0, 0.2, 0.4, 0.6, 0.8, 1.0], "labels": false, "tickSize": -11, "domain": false, "grid": false, "title": null}},
            "color": {"field": "group", "type": "nominal", "scale": {"domain": ["F1P2", "F1P3", "F2P2", "F2P3"], "range": ["#E69F00", "#0072B2", "#999999", "#009E73"]}, "legend": null}
          }
        }
      ]
    },
    {
      "width": 515,
      "height": 506,
      "resolve": {"axis": {"x": "independent", "y": "independent"}},
      "layer": [
        {
          "data": {"name": "tags"},
          "transform": [{"filter": "datum.panel === 'b'"}],
          "mark": {"type": "text", "align": "left", "baseline": "alphabetic", "fontSize": 24, "fontWeight": "bold", "color": "black"},
          "encoding": {
            "x": {"datum": 0.134, "type": "quantitative", "scale": {"domain": [0, 3], "nice": false, "zero": false},
              "axis": {"orient": "bottom", "labels": false, "ticks": false, "domain": false, "grid": false, "title": "difference", "titleFontSize": 30, "titleFontWeight": "bold", "titleX": -147, "titleY": 100, "titleAlign": "left", "titleBaseline": "alphabetic"}},
            "y": {"datum": 0.915, "type": "quantitative", "scale": {"domain": [0, 1], "nice": false, "zero": false}, "axis": null},
            "text": {"field": "tag"}
          }
        },
        {
          "data": {"name": "tags"},
          "transform": [{"filter": "datum.panel === 'b'"}],
          "mark": {"type": "text", "align": "center", "baseline": "alphabetic", "fontSize": 28, "fontWeight": "bold", "color": "black"},
          "encoding": {
            "x": {"datum": 2.318, "type": "quantitative", "scale": {"domain": [0, 3], "nice": false, "zero": false},
              "axis": {"orient": "bottom", "labels": false, "ticks": false, "domain": false, "grid": false, "title": "[MPa]", "titleFontSize": 45, "titleFontWeight": "bold", "titleX": 12, "titleY": 95, "titleAlign": "left", "titleBaseline": "alphabetic"}},
            "y": {"datum": 0.887, "type": "quantitative", "scale": {"domain": [0, 1], "nice": false, "zero": false}, "axis": null},
            "text": {"field": "head"}
          }
        },
        {
          "data": {"name": "labels"},
          "transform": [{"filter": "datum.panel === 'b'"}],
          "mark": {"type": "text", "align": "left", "baseline": "alphabetic", "fontSize": 27, "fontWeight": "bold"},
          "encoding": {
            "x": {"datum": 1.89, "type": "quantitative", "scale": {"domain": [0, 3], "nice": false, "zero": false}, "axis": null},
            "y": {"field": "ly", "type": "quantitative", "scale": {"domain": [0, 1], "nice": false, "zero": false}, "axis": null},
            "color": {"field": "group", "type": "nominal", "scale": {"domain": ["F1P2", "F1P3", "F2P2", "F2P3"], "range": ["#E69F00", "#0072B2", "#999999", "#009E73"]}, "legend": null},
            "text": {"field": "group"}
          }
        },
        {
          "data": {"name": "labels"},
          "transform": [{"filter": "datum.panel === 'b'"}],
          "mark": {"type": "text", "align": "left", "baseline": "alphabetic", "fontSize": 27, "fontWeight": "bold"},
          "encoding": {
            "x": {"datum": 2.38, "type": "quantitative", "scale": {"domain": [0, 3], "nice": false, "zero": false}, "axis": null},
            "y": {"field": "ly", "type": "quantitative", "scale": {"domain": [0, 1], "nice": false, "zero": false}, "axis": null},
            "color": {"field": "group", "type": "nominal", "scale": {"domain": ["F1P2", "F1P3", "F2P2", "F2P3"], "range": ["#E69F00", "#0072B2", "#999999", "#009E73"]}, "legend": null},
            "text": {"field": "slope"}
          }
        },
        {
          "data": {"name": "labels"},
          "transform": [{"filter": "datum.panel === 'b'"}],
          "mark": {"type": "text", "align": "left", "baseline": "alphabetic", "fontSize": 18, "fontWeight": "bold", "color": "black", "dy": -15},
          "encoding": {
            "x": {"datum": 2.69, "type": "quantitative", "scale": {"domain": [0, 3], "nice": false, "zero": false}, "axis": null},
            "y": {"field": "ly", "type": "quantitative", "scale": {"domain": [0, 1], "nice": false, "zero": false}, "axis": null},
            "text": {"field": "sig"}
          }
        },
        {
          "data": {"name": "pts"},
          "transform": [{"filter": "datum.panel === 'b'"}],
          "mark": {"type": "circle", "size": 380, "opacity": 1},
          "encoding": {
            "x": {"field": "x", "type": "quantitative", "scale": {"domain": [0, 3], "nice": false, "zero": false},
              "axis": {"orient": "bottom", "values": [0, 1, 2, 3], "format": "d", "labelFontSize": 29, "labelFontWeight": "bold", "labelBaseline": "alphabetic", "labelPadding": 61, "tickSize": -11, "domain": false, "grid": false, "title": null}},
            "y": {"field": "y", "type": "quantitative", "scale": {"domain": [0, 1], "nice": false, "zero": false},
              "axis": {"orient": "left", "values": [0, 0.2, 0.4, 0.6, 0.8, 1.0], "labels": false, "tickSize": -11, "domain": false, "grid": false, "title": null}},
            "color": {"field": "group", "type": "nominal", "scale": {"domain": ["F1P2", "F1P3", "F2P2", "F2P3"], "range": ["#E69F00", "#0072B2", "#999999", "#009E73"]}, "legend": null}
          }
        },
        {
          "data": {"name": "fits"},
          "transform": [{"filter": "datum.panel === 'b'"}],
          "mark": {"type": "line", "strokeWidth": 3},
          "encoding": {
            "x": {"field": "x", "type": "quantitative", "scale": {"domain": [0, 3], "nice": false, "zero": false},
              "axis": {"orient": "top", "values": [0, 1, 2, 3], "labels": false, "tickSize": -11, "domain": false, "grid": false, "title": null}},
            "y": {"field": "y", "type": "quantitative", "scale": {"domain": [0, 1], "nice": false, "zero": false},
              "axis": {"orient": "right", "values": [0, 0.2, 0.4, 0.6, 0.8, 1.0], "labels": false, "tickSize": -11, "domain": false, "grid": false, "title": null}},
            "color": {"field": "group", "type": "nominal", "scale": {"domain": ["F1P2", "F1P3", "F2P2", "F2P3"], "range": ["#E69F00", "#0072B2", "#999999", "#009E73"]}, "legend": null}
          }
        }
      ]
    }
  ]
}
